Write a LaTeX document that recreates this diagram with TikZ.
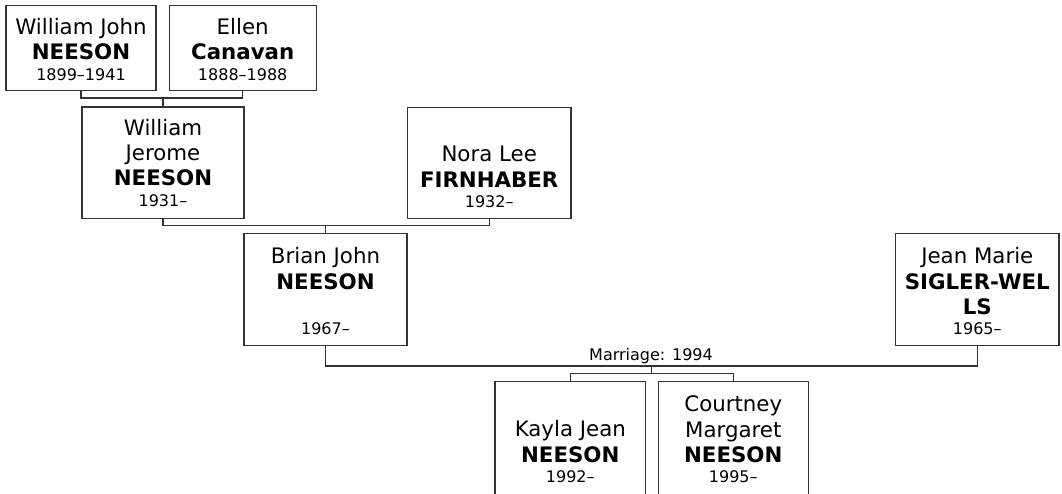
\documentclass[tikz,border=0pt]{standalone}
\usepackage{fontspec}
\setmainfont{DejaVu Sans}
\newcommand{\stk}[1]{\vtop{\fontsize{21.33}{25.3}\selectfont\lineskiplimit=-20pt\halign{\hfil##\hfil\cr#1\crcr}}}
\newcommand{\DL}[1]{\noalign{\vskip-4.8pt}\fontsize{16}{19}\selectfont #1\cr}
\begin{document}
\begin{tikzpicture}[x=1pt,y=-1pt,
  pbox/.style={draw=black!80,line width=1.4pt,fill=white,inner sep=0pt,rectangle},
  txt/.style={inner sep=0pt,anchor=base,text=black},
  conn/.style={draw=black!80,line width=1.4pt}]
\useasboundingbox (0,0) rectangle (1062,493);
\clip (0,0) rectangle (1062,493);
% boxes
\node[pbox,minimum width=150pt,minimum height=85pt] (b1) at (81,48.2) {};
\node[pbox,minimum width=147pt,minimum height=85pt] (b2) at (242.7,48.2) {};
\node[pbox,minimum width=162pt,minimum height=111.3pt] (b3) at (163,162.7) {};
\node[pbox,minimum width=163.7pt,minimum height=111pt] (b4) at (489.2,162.8) {};
\node[pbox,minimum width=163pt,minimum height=112pt] (b5) at (325.5,289.3) {};
\node[pbox,minimum width=163.3pt,minimum height=112pt] (b6) at (977.3,289.4) {};
\node[pbox,minimum width=150.7pt,minimum height=116pt] (b7) at (570.3,439.7) {};
\node[pbox,minimum width=150pt,minimum height=116pt] (b8) at (733.3,439.7) {};
% texts
\node[txt] (t1) at (81,34.3) {\stk{William John\cr \textbf{NEESON}\cr\DL{1899–1941}}};
\node[txt] (t2) at (242.7,34.3) {\stk{Ellen\cr \textbf{Canavan}\cr\DL{1888–1988}}};
\node[txt] (t3) at (163,135) {\stk{William\cr Jerome\cr \textbf{NEESON}\cr\DL{1931–}}};
\node[txt] (t4) at (489.2,161.7) {\stk{Nora Lee\cr \textbf{FIRNHABER}\cr\DL{1932–}}};
\node[txt] (t5) at (325.5,263.7) {\stk{Brian John\cr \textbf{NEESON}\cr \cr\DL{1967–}}};
\node[txt] (t6) at (977.3,263.7) {\stk{Jean Marie\cr \textbf{SIGLER-WEL}\cr \textbf{LS}\cr\DL{1965–}}};
\node[txt] (t7) at (570.3,436.7) {\stk{Kayla Jean\cr \textbf{NEESON}\cr\DL{1992–}}};
\node[txt] (t8) at (733.3,411.7) {\stk{Courtney\cr Margaret\cr \textbf{NEESON}\cr\DL{1995–}}};
% junctions
\coordinate (j1) at (163,98);
\coordinate (j2) at (325.5,225.7);
\coordinate (j3) at (651.7,366);
\coordinate (j4) at (651.7,373.5);
% connectors
\draw[conn] (b1.south) |- (j1) -| (b2.south);
\draw[conn] (j1) -- (j1 |- b3.north);
\draw[conn] (b3.south) |- (j2) -| (b4.south);
\draw[conn] (j2) -- (j2 |- b5.north);
\draw[conn] (b5.south) |- (j3) -| (b6.south);
\draw[conn] (j3) -- (j4);
\draw[conn] (b7.north) |- (j4) -| (b8.north);
\node[txt,font=\fontsize{16}{19}\selectfont] (mlab) at (651,360.5) {Marriage: 1994};
\end{tikzpicture}
\end{document}
